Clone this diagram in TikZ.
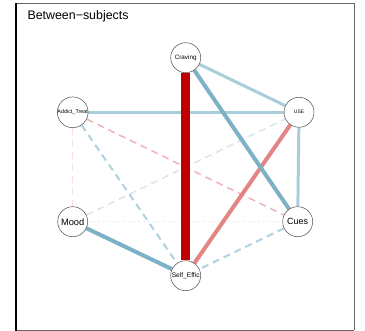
\documentclass[tikz,border=0pt]{standalone}
\usepackage{fontspec}
\setmainfont{Liberation Sans}
\usetikzlibrary{backgrounds}
\definecolor{dred}{HTML}{BF0000}
\definecolor{salmon}{HTML}{E38584}
\definecolor{steel}{HTML}{7DB2C6}
\definecolor{lblue}{HTML}{A9CEDA}
\definecolor{dblue}{HTML}{AFD3DE}
\definecolor{dpink}{HTML}{F0B6C0}
\definecolor{fpink}{HTML}{F6DDE2}
\definecolor{fblue}{HTML}{D3E6EC}
\definecolor{ffblue}{HTML}{E6F0F3}
\begin{document}
\begin{tikzpicture}[x=1pt,y=-1pt,
  vnode/.style={circle,draw=black!70,line width=0.5pt,fill=white,minimum size=30pt,inner sep=0pt},
  dash1/.style={dash pattern=on 7pt off 5pt},
  posstrong/.style={draw=steel,line width=4pt},
  posmid/.style={draw=lblue,line width=3pt},
  negstrong/.style={draw=dred,line width=9pt},
  negmid/.style={draw=salmon,line width=4pt},
  posdash/.style={draw=dblue,line width=2pt,dash1},
  negdash/.style={draw=dpink,line width=1.6pt,dash1},
  fadedneg/.style={draw=fpink,line width=1pt,dash1},
  fadedpos/.style={draw=fblue,line width=1.4pt,dash1},
  faintpos/.style={draw=ffblue,line width=1pt,dash pattern=on 2pt off 3pt}]
\useasboundingbox (0,0) rectangle (365,331);
\draw[black!60,line width=0.6pt] (16,3.5) -- (354,3.5) -- (354,330);
\draw[black!60,line width=0.6pt] (16,330) -- (354,330);
\draw[black,line width=1.3pt] (16,3) -- (16,331);
\node[anchor=west,font=\fontsize{12.4}{14}\selectfont] (title) at (24,16) {Between\textminus subjects};
\node[vnode,font=\fontsize{6.3}{7}\selectfont] (crav) at (185.7,57.7) {Craving};
\node[vnode,font=\fontsize{5.4}{6}\selectfont] (addict) at (72.7,112.3) {Addict\_Treat};
\node[vnode,font=\fontsize{4.9}{6}\selectfont] (use) at (299,112.3) {USE};
\node[vnode,font=\fontsize{9.3}{10}\selectfont] (mood) at (72.7,221.7) {Mood};
\node[vnode,font=\fontsize{9}{10}\selectfont] (cues) at (297.7,221.7) {Cues};
\node[vnode,font=\fontsize{6.6}{7}\selectfont] (self) at (185.7,275.7) {Self\_Effic};
\begin{scope}[on background layer]
\fill[white] (0,0) rectangle (365,331);
\draw[faintpos] (mood) -- (cues);
\draw[fadedneg] (addict) -- (mood);
\draw[fadedpos] (mood) -- (use);
\draw[negdash] (addict) -- (cues);
\draw[posdash] (addict) -- (self);
\draw[posdash] (cues) -- (self);
\draw[posmid] (use) -- (cues);
\draw[posmid] (crav) -- (use);
\draw[posmid] (addict) -- (use);
\draw[negmid] (use) -- (self);
\draw[posstrong] (mood) -- (self);
\draw[posstrong] (crav) -- (cues);
\draw[negstrong] (crav) -- (self);
\end{scope}
\end{tikzpicture}
\end{document}
